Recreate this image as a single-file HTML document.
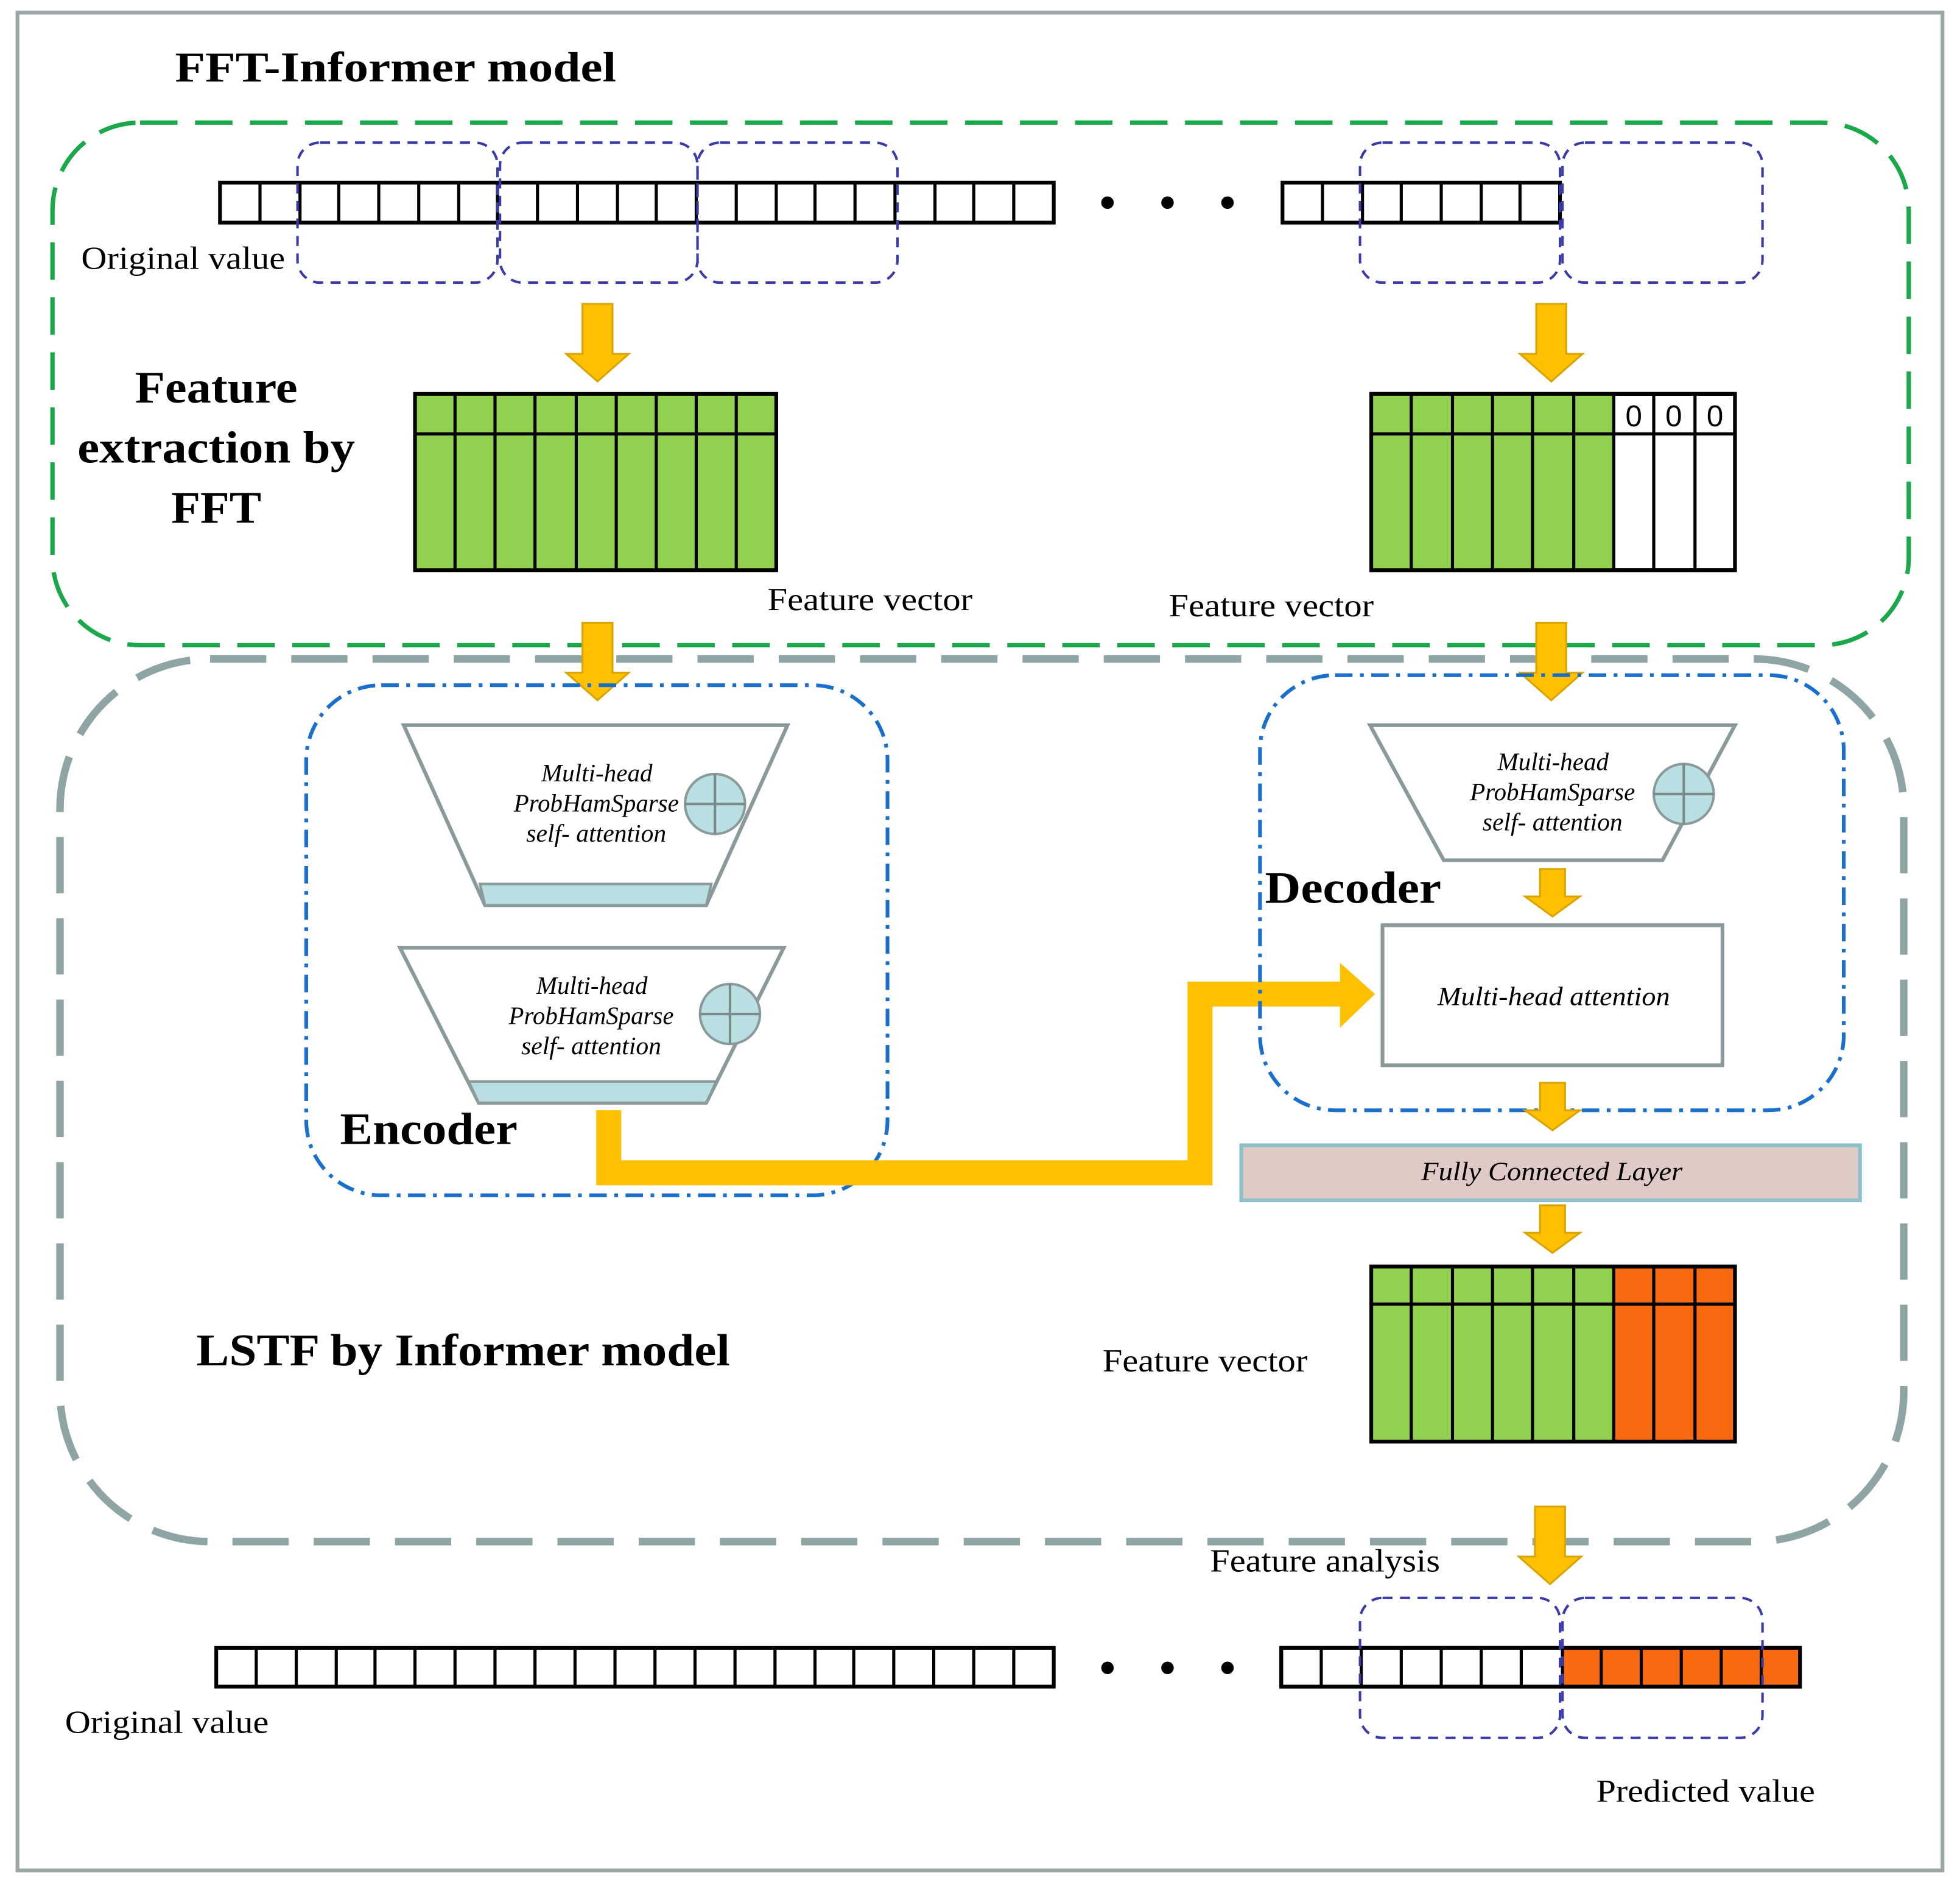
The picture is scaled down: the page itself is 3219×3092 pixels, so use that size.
<!DOCTYPE html>
<html><head><meta charset="utf-8"><style>html,body{margin:0;padding:0;background:#fff}svg{display:block}</style></head>
<body>
<svg width="3219" height="3092" viewBox="0 0 1568 1506" xmlns="http://www.w3.org/2000/svg" font-family="Liberation Serif, serif">
<defs>
<g id="darr"><polygon points="-12,0 12,0 12,40 25,40 0,62 -25,40 -12,40" fill="#FFC000" stroke="#d9a300" stroke-width="1.5"/></g>
<g id="sarr"><polygon points="-10,0 10,0 10,22 22,22 0,38 -22,22 -10,22" fill="#FFC000" stroke="#d9a300" stroke-width="1.5"/></g>
</defs>
<rect x="0" y="0" width="1568" height="1506" fill="#fff"/>
<rect x="14" y="10" width="1540" height="1486" fill="none" stroke="#9aa6a6" stroke-width="3"/>
<text x="140" y="65" font-size="34" font-weight="bold" textLength="353" lengthAdjust="spacingAndGlyphs">FFT-Informer model</text>
<rect x="42" y="98" width="1485" height="418" rx="70" fill="none" stroke="#1aa84a" stroke-width="3.5" stroke-dasharray="30 14"/>
<rect x="48" y="527" width="1475" height="706" rx="120" fill="none" stroke="#8fa5a5" stroke-width="6" stroke-dasharray="45 20"/>

<g fill="#fff" stroke="#000" stroke-width="3">
<rect x="176" y="146" width="667" height="32"/>
<rect x="1026" y="146" width="222" height="32"/>
</g>
<g stroke="#000" stroke-width="2.5">
<path d="M208 146v32M240 146v32M271 146v32M303 146v32M335 146v32M367 146v32M398 146v32M430 146v32M462 146v32M494 146v32M525 146v32M557 146v32M589 146v32M621 146v32M652 146v32M684 146v32M716 146v32M748 146v32M779 146v32M811 146v32"/>
<path d="M1058 146v32M1090 146v32M1121 146v32M1153 146v32M1185 146v32M1216 146v32"/>
</g>
<g fill="#000"><circle cx="886" cy="162" r="5"/><circle cx="934" cy="162" r="5"/><circle cx="982" cy="162" r="5"/>
<circle cx="886" cy="1334" r="5"/><circle cx="934" cy="1334" r="5"/><circle cx="982" cy="1334" r="5"/></g>
<g fill="none" stroke="#3a3aa8" stroke-width="2" stroke-dasharray="8 6">
<rect x="238" y="114" width="160" height="112" rx="18"/>
<rect x="400" y="114" width="158" height="112" rx="18"/>
<rect x="558" y="114" width="160" height="112" rx="18"/>
<rect x="1088" y="114" width="160" height="112" rx="18"/>
<rect x="1250" y="114" width="160" height="112" rx="18"/>
</g>
<text x="65" y="215" font-size="26" textLength="163" lengthAdjust="spacingAndGlyphs">Original value</text>

<use href="#darr" x="478" y="243"/>
<use href="#darr" x="1241" y="243"/>

<text x="108" y="322" font-size="36" font-weight="bold" textLength="130" lengthAdjust="spacingAndGlyphs">Feature</text>
<text x="62" y="370" font-size="36" font-weight="bold" textLength="222" lengthAdjust="spacingAndGlyphs">extraction by</text>
<text x="137" y="418" font-size="36" font-weight="bold" textLength="72" lengthAdjust="spacingAndGlyphs">FFT</text>

<rect x="332" y="315" width="289" height="141" fill="#92d050" stroke="#000" stroke-width="3"/>
<path d="M332 347h289M364 315v141M396 315v141M428 315v141M461 315v141M493 315v141M525 315v141M557 315v141M589 315v141" stroke="#000" stroke-width="2.5"/>
<rect x="1097" y="315" width="291" height="141" fill="#fff" stroke="#000" stroke-width="3"/>
<rect x="1097" y="315" width="194" height="141" fill="#92d050"/>
<path d="M1097 347h291M1129 315v141M1162 315v141M1194 315v141M1226 315v141M1259 315v141M1291 315v141M1323 315v141M1356 315v141" stroke="#000" stroke-width="2.5"/>
<rect x="1097" y="315" width="291" height="141" fill="none" stroke="#000" stroke-width="3"/>
<text font-size="24" font-family="Liberation Sans, sans-serif" text-anchor="middle"><tspan x="1307" y="341">0</tspan><tspan x="1339" y="341">0</tspan><tspan x="1372" y="341">0</tspan></text>
<text x="614" y="488" font-size="26" textLength="164" lengthAdjust="spacingAndGlyphs">Feature vector</text>
<text x="935" y="493" font-size="26" textLength="164" lengthAdjust="spacingAndGlyphs">Feature vector</text>

<use href="#darr" x="478" y="498"/>
<use href="#darr" x="1241" y="498"/>

<rect x="245" y="548" width="465" height="408" rx="60" fill="none" stroke="#1a6fcc" stroke-width="3" stroke-dasharray="14 6 3 6"/>
<polygon points="323,580 630,580 565,724 388,724" fill="#fff" stroke="#8a9a9a" stroke-width="3"/>
<polygon points="384,707 569,707 565,724 388,724" fill="#b9dfe3" stroke="#8a9a9a" stroke-width="2"/>
<circle cx="572" cy="643" r="24" fill="#b9dfe3" stroke="#8a9a9a" stroke-width="2"/>
<path d="M548 643h48M572 619v48" stroke="#7a8a8a" stroke-width="2"/>
<g font-size="20" font-style="italic">
<text x="433" y="625" textLength="89" lengthAdjust="spacingAndGlyphs">Multi-head</text>
<text x="411" y="649" textLength="132" lengthAdjust="spacingAndGlyphs">ProbHamSparse</text>
<text x="421" y="673" textLength="112" lengthAdjust="spacingAndGlyphs">self- attention</text>
<text x="429" y="795" textLength="89" lengthAdjust="spacingAndGlyphs">Multi-head</text>
<text x="407" y="819" textLength="132" lengthAdjust="spacingAndGlyphs">ProbHamSparse</text>
<text x="417" y="843" textLength="112" lengthAdjust="spacingAndGlyphs">self- attention</text>
<text x="1198" y="616" textLength="89" lengthAdjust="spacingAndGlyphs">Multi-head</text>
<text x="1176" y="640" textLength="132" lengthAdjust="spacingAndGlyphs">ProbHamSparse</text>
<text x="1186" y="664" textLength="112" lengthAdjust="spacingAndGlyphs">self- attention</text>
</g>
<polygon points="320,758 627,758 565,882 383,882" fill="#fff" stroke="#8a9a9a" stroke-width="3"/>
<polygon points="375,865 573,865 565,882 383,882" fill="#b9dfe3" stroke="#8a9a9a" stroke-width="2"/>
<circle cx="584" cy="811" r="24" fill="#b9dfe3" stroke="#8a9a9a" stroke-width="2"/>
<path d="M560 811h48M584 787v48" stroke="#7a8a8a" stroke-width="2"/>
<text x="429" y="795" font-size="20" font-style="italic" textLength="89" lengthAdjust="spacingAndGlyphs">Multi-head</text>
<text x="407" y="819" font-size="20" font-style="italic" textLength="132" lengthAdjust="spacingAndGlyphs">ProbHamSparse</text>
<text x="417" y="843" font-size="20" font-style="italic" textLength="112" lengthAdjust="spacingAndGlyphs">self- attention</text>
<text x="272" y="915" font-size="36" font-weight="bold" textLength="142" lengthAdjust="spacingAndGlyphs">Encoder</text>

<polyline points="487,888 487,938 960,938 960,795 1075,795" fill="none" stroke="#FFC000" stroke-width="20"/>
<polygon points="1072,770 1100,795 1072,822" fill="#FFC000"/>

<rect x="1008" y="540" width="467" height="348" rx="60" fill="none" stroke="#1a6fcc" stroke-width="3" stroke-dasharray="14 6 3 6"/>
<polygon points="1096,580 1388,580 1330,688 1155,688" fill="#fff" stroke="#8a9a9a" stroke-width="3"/>
<circle cx="1347" cy="635" r="24" fill="#b9dfe3" stroke="#8a9a9a" stroke-width="2"/>
<path d="M1323 635h48M1347 611v48" stroke="#7a8a8a" stroke-width="2"/>
<text x="1198" y="616" font-size="20" font-style="italic" textLength="89" lengthAdjust="spacingAndGlyphs">Multi-head</text>
<text x="1176" y="640" font-size="20" font-style="italic" textLength="132" lengthAdjust="spacingAndGlyphs">ProbHamSparse</text>
<text x="1186" y="664" font-size="20" font-style="italic" textLength="112" lengthAdjust="spacingAndGlyphs">self- attention</text>
<text x="1012" y="722" font-size="36" font-weight="bold" textLength="141" lengthAdjust="spacingAndGlyphs">Decoder</text>
<use href="#sarr" x="1242" y="695"/>
<rect x="1106" y="740" width="272" height="112" fill="#fff" stroke="#8a9a9a" stroke-width="3"/>
<text x="1150" y="804" font-size="21" font-style="italic" textLength="186" lengthAdjust="spacingAndGlyphs">Multi-head attention</text>
<use href="#sarr" x="1242" y="866"/>
<rect x="993" y="916" width="495" height="44" fill="#e0cac5" stroke="#8cc0c8" stroke-width="3"/>
<text x="1137" y="944" font-size="21" font-style="italic" textLength="209" lengthAdjust="spacingAndGlyphs">Fully Connected Layer</text>
<use href="#sarr" x="1242" y="964"/>

<rect x="1097" y="1013" width="291" height="140" fill="#f96a10" stroke="#000" stroke-width="3"/>
<rect x="1097" y="1013" width="194" height="140" fill="#92d050"/>
<path d="M1097 1043h291M1129 1013v140M1162 1013v140M1194 1013v140M1226 1013v140M1259 1013v140M1291 1013v140M1323 1013v140M1356 1013v140" stroke="#000" stroke-width="2.5"/>
<rect x="1097" y="1013" width="291" height="140" fill="none" stroke="#000" stroke-width="3"/>
<text x="882" y="1097" font-size="26" textLength="164" lengthAdjust="spacingAndGlyphs">Feature vector</text>
<text x="157" y="1092" font-size="36" font-weight="bold" textLength="427" lengthAdjust="spacingAndGlyphs">LSTF by Informer model</text>

<use href="#darr" x="1240" y="1205"/>
<text x="968" y="1257" font-size="26" textLength="184" lengthAdjust="spacingAndGlyphs">Feature analysis</text>

<rect x="173" y="1318" width="670" height="31" fill="#fff" stroke="#000" stroke-width="3"/>
<path d="M205 1318v31M237 1318v31M269 1318v31M300 1318v31M332 1318v31M364 1318v31M396 1318v31M428 1318v31M460 1318v31M492 1318v31M524 1318v31M556 1318v31M588 1318v31M620 1318v31M652 1318v31M683 1318v31M715 1318v31M747 1318v31M779 1318v31M811 1318v31" stroke="#000" stroke-width="2.5"/>
<rect x="1025" y="1318" width="415" height="31" fill="#fff" stroke="#000" stroke-width="3"/>
<rect x="1250" y="1318" width="190" height="31" fill="#f96a10"/>
<path d="M1057 1318v31M1089 1318v31M1121 1318v31M1153 1318v31M1185 1318v31M1217 1318v31M1250 1318v31M1281 1318v31M1313 1318v31M1345 1318v31M1377 1318v31M1409 1318v31" stroke="#000" stroke-width="2.5"/>
<rect x="1025" y="1318" width="415" height="31" fill="none" stroke="#000" stroke-width="3"/>
<g fill="none" stroke="#3a3aa8" stroke-width="2" stroke-dasharray="8 6">
<rect x="1088" y="1278" width="160" height="112" rx="18"/>
<rect x="1250" y="1278" width="160" height="112" rx="18"/>
</g>
<text x="52" y="1386" font-size="26" textLength="163" lengthAdjust="spacingAndGlyphs">Original value</text>
<text x="1277" y="1441" font-size="26" textLength="175" lengthAdjust="spacingAndGlyphs">Predicted value</text>
</svg>
</body></html>
